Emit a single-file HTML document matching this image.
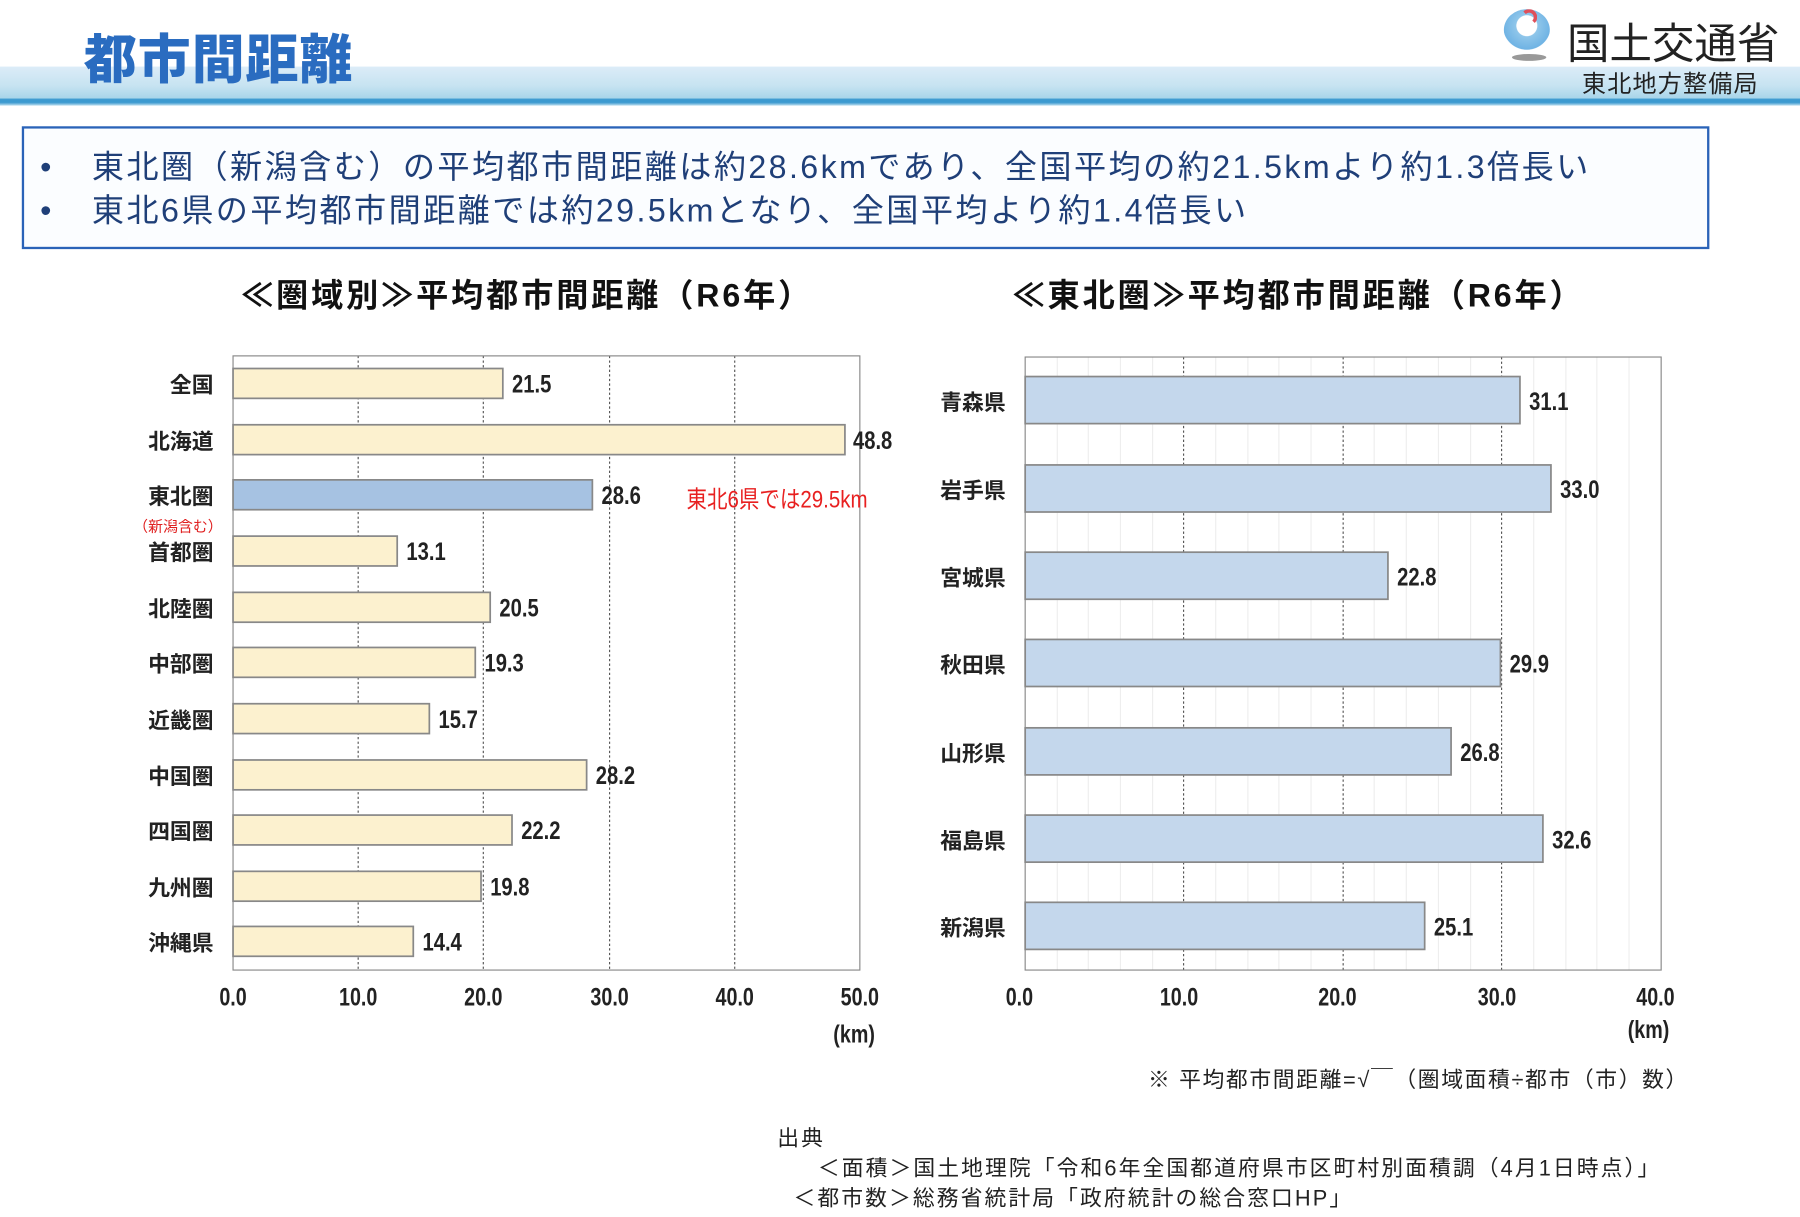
<!DOCTYPE html>
<html><head><meta charset="utf-8"><style>
*{margin:0;padding:0;box-sizing:border-box}
body{width:1800px;height:1217px;background:#fff;overflow:hidden;font-family:"Liberation Sans","Noto Sans CJK JP",sans-serif}
#w{position:absolute;left:0;top:0;width:1568px;height:1060px;transform:scale(1.148);transform-origin:0 0}
.a{position:absolute;white-space:nowrap}
.n{font-weight:bold;font-size:22px;transform:scaleX(.8);transform-origin:0 50%;color:#222}
.lb{font-weight:bold;font-size:19px;color:#222;text-align:right;width:90px}
.tk{font-weight:bold;font-size:22px;transform:scaleX(.78);color:#222;width:60px;text-align:center}
</style></head><body><div id="w">
<div class="a" style="left:0;top:58px;width:1568px;height:34px;background:linear-gradient(#dcecf8,#c6e3f1 50%,#a9d6ea 80%,#3c9ad0 84%,#3c9ad0 92%,#c0e0f0)"></div>
<div class="a" style="left:1298px;top:0;width:270px;height:58px;background:#fff"></div>
<div class="a" style="left:73px;top:16px;font-size:46px;font-weight:900;color:#2a6cc0;letter-spacing:1px">都市間距離</div>
<div class="a" style="left:1310px;top:8px;width:40px;height:36px;border-radius:50%;background:radial-gradient(circle at 50% 40%,#fff 30%,#8fc6ea 32%,#6fb3e4 70%,#fff 72%)"></div>
<div class="a" style="left:1325px;top:8px;width:14px;height:14px;border-radius:50%;border:3px solid #e0505a;border-left-color:transparent;border-bottom-color:transparent"></div>
<div class="a" style="left:1317px;top:47px;width:30px;height:6px;border-radius:50%;background:#999"></div>
<div class="a" style="left:1365px;top:8px;font-size:37px;color:#222">国土交通省</div>
<div class="a" style="left:1378px;top:57px;font-size:21px;color:#222;letter-spacing:1px">東北地方整備局</div>
<div class="a" style="left:19px;top:110px;width:1470px;height:107px;border:2px solid #2a63b8;background:#fbfdff"></div>
<div class="a" style="left:35px;top:127px;font-size:28px;color:#1f3f78;line-height:38px;letter-spacing:2.1px"><span style="display:inline-block;width:45px">•</span>東北圏（新潟含む）の平均都市間距離は約28.6kmであり、全国平均の約21.5kmより約1.3倍長い<br><span style="display:inline-block;width:45px">•</span>東北6県の平均都市間距離では約29.5kmとなり、全国平均より約1.4倍長い</div>
<div class="a" style="left:210px;top:236px;font-size:28px;font-weight:bold;color:#111;letter-spacing:2.5px">≪圏域別≫平均都市間距離（R6年）</div>
<div class="a" style="left:882px;top:236px;font-size:28px;font-weight:bold;color:#111;letter-spacing:2.5px">≪東北圏≫平均都市間距離（R6年）</div>
<svg class="a" style="left:0;top:0" width="1568" height="1060">
<g stroke="#555" stroke-dasharray="2,2" stroke-width="1">
<line x1="312" y1="310" x2="312" y2="845"/><line x1="421" y1="310" x2="421" y2="845"/><line x1="531" y1="310" x2="531" y2="845"/><line x1="640" y1="310" x2="640" y2="845"/>
<line x1="1031" y1="311" x2="1031" y2="845"/><line x1="1170" y1="311" x2="1170" y2="845"/><line x1="1308" y1="311" x2="1308" y2="845"/>
</g>
<g stroke="#eee" stroke-width="1">
<line x1="921" y1="311" x2="921" y2="845"/><line x1="948" y1="311" x2="948" y2="845"/><line x1="976" y1="311" x2="976" y2="845"/><line x1="1004" y1="311" x2="1004" y2="845"/>
<line x1="1059" y1="311" x2="1059" y2="845"/><line x1="1087" y1="311" x2="1087" y2="845"/><line x1="1114" y1="311" x2="1114" y2="845"/><line x1="1142" y1="311" x2="1142" y2="845"/>
<line x1="1197" y1="311" x2="1197" y2="845"/><line x1="1225" y1="311" x2="1225" y2="845"/><line x1="1253" y1="311" x2="1253" y2="845"/><line x1="1281" y1="311" x2="1281" y2="845"/>
<line x1="1336" y1="311" x2="1336" y2="845"/><line x1="1364" y1="311" x2="1364" y2="845"/><line x1="1391" y1="311" x2="1391" y2="845"/><line x1="1419" y1="311" x2="1419" y2="845"/>
</g>
<rect x="203" y="310" width="546" height="535" fill="none" stroke="#888"/>
<rect x="893" y="311" width="554" height="534" fill="none" stroke="#888"/>
<g stroke="#888" stroke-width="1.5" fill="#fcf1cf">
<rect x="203" y="321" width="235" height="26"/><rect x="203" y="370" width="533" height="26"/>
<rect x="203" y="418" width="313" height="26" fill="#a6c2e2"/>
<rect x="203" y="467" width="143" height="26"/><rect x="203" y="516" width="224" height="26"/>
<rect x="203" y="564" width="211" height="26"/><rect x="203" y="613" width="171" height="26"/>
<rect x="203" y="662" width="308" height="26"/><rect x="203" y="710" width="243" height="26"/>
<rect x="203" y="759" width="216" height="26"/><rect x="203" y="807" width="157" height="26"/>
</g>
<g stroke="#888" stroke-width="1.5" fill="#c4d7ec">
<rect x="893" y="328" width="431" height="41"/><rect x="893" y="405" width="458" height="41"/>
<rect x="893" y="481" width="316" height="41"/><rect x="893" y="557" width="414" height="41"/>
<rect x="893" y="634" width="371" height="41"/><rect x="893" y="710" width="451" height="41"/>
<rect x="893" y="786" width="348" height="41"/>
</g>
</svg>
<div class="a lb" style="left:96px;top:321px">全国</div>
<div class="a lb" style="left:96px;top:370px">北海道</div>
<div class="a lb" style="left:96px;top:418px">東北圏</div>
<div class="a" style="left:116px;top:448px;font-size:13px;color:#e02020">（新潟含む）</div>
<div class="a lb" style="left:96px;top:467px">首都圏</div>
<div class="a lb" style="left:96px;top:516px">北陸圏</div>
<div class="a lb" style="left:96px;top:564px">中部圏</div>
<div class="a lb" style="left:96px;top:613px">近畿圏</div>
<div class="a lb" style="left:96px;top:662px">中国圏</div>
<div class="a lb" style="left:96px;top:710px">四国圏</div>
<div class="a lb" style="left:96px;top:759px">九州圏</div>
<div class="a lb" style="left:96px;top:807px">沖縄県</div>
<div class="a n" style="left:446px;top:322px">21.5</div>
<div class="a n" style="left:743px;top:371px">48.8</div>
<div class="a n" style="left:524px;top:419px">28.6</div>
<div class="a" style="left:598px;top:419px;font-size:21px;color:#e82020;transform:scaleX(.85);transform-origin:0 50%">東北6県では29.5km</div>
<div class="a n" style="left:354px;top:468px">13.1</div>
<div class="a n" style="left:435px;top:517px">20.5</div>
<div class="a n" style="left:422px;top:565px">19.3</div>
<div class="a n" style="left:382px;top:614px">15.7</div>
<div class="a n" style="left:519px;top:663px">28.2</div>
<div class="a n" style="left:454px;top:711px">22.2</div>
<div class="a n" style="left:427px;top:760px">19.8</div>
<div class="a n" style="left:368px;top:808px">14.4</div>
<div class="a lb" style="left:786px;top:336px">青森県</div>
<div class="a lb" style="left:786px;top:413px">岩手県</div>
<div class="a lb" style="left:786px;top:489px">宮城県</div>
<div class="a lb" style="left:786px;top:565px">秋田県</div>
<div class="a lb" style="left:786px;top:642px">山形県</div>
<div class="a lb" style="left:786px;top:718px">福島県</div>
<div class="a lb" style="left:786px;top:794px">新潟県</div>
<div class="a n" style="left:1332px;top:337px">31.1</div>
<div class="a n" style="left:1359px;top:414px">33.0</div>
<div class="a n" style="left:1217px;top:490px">22.8</div>
<div class="a n" style="left:1315px;top:566px">29.9</div>
<div class="a n" style="left:1272px;top:643px">26.8</div>
<div class="a n" style="left:1352px;top:719px">32.6</div>
<div class="a n" style="left:1249px;top:795px">25.1</div>
<div class="a tk" style="left:173px;top:856px">0.0</div><div class="a tk" style="left:282px;top:856px">10.0</div><div class="a tk" style="left:391px;top:856px">20.0</div><div class="a tk" style="left:501px;top:856px">30.0</div><div class="a tk" style="left:610px;top:856px">40.0</div><div class="a tk" style="left:719px;top:856px">50.0</div>
<div class="a tk" style="left:714px;top:888px">(km)</div>
<div class="a tk" style="left:858px;top:856px">0.0</div><div class="a tk" style="left:997px;top:856px">10.0</div><div class="a tk" style="left:1135px;top:856px">20.0</div><div class="a tk" style="left:1274px;top:856px">30.0</div><div class="a tk" style="left:1412px;top:856px">40.0</div>
<div class="a tk" style="left:1406px;top:884px">(km)</div>
<div class="a" style="left:1000px;top:926px;font-size:19px;color:#222;letter-spacing:1.4px">※ 平均都市間距離=√￣（圏域面積÷都市（市）数）</div>
<div class="a" style="left:677px;top:980px;font-size:19px;color:#222;line-height:26px;letter-spacing:1.8px">出典<br>&nbsp;&nbsp;&nbsp;&nbsp;&nbsp;＜面積＞国土地理院「令和6年全国都道府県市区町村別面積調（4月1日時点）」<br>&nbsp;&nbsp;＜都市数＞総務省統計局「政府統計の総合窓口HP」</div>
</div></body></html>
